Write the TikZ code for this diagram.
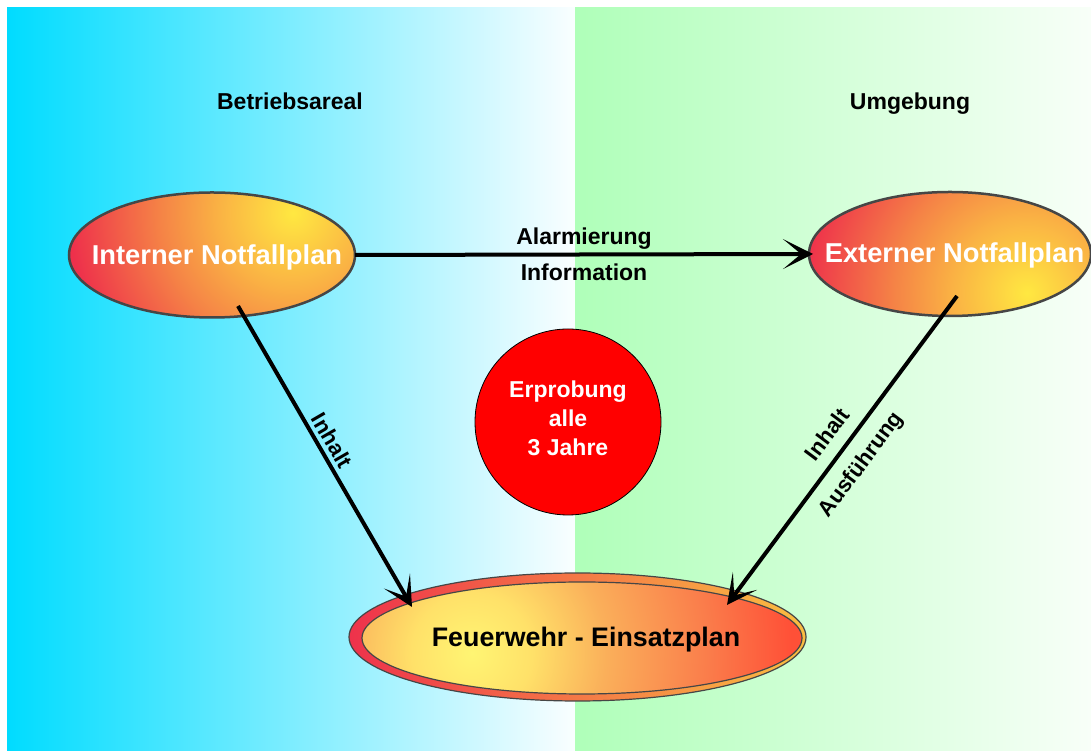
\documentclass[tikz,border=0pt]{standalone}
\usepackage{fontspec}
\setmainfont{Liberation Sans}
\usetikzlibrary{arrows.meta,shapes.geometric}

\definecolor{cyanL}{RGB}{0,220,255}
\definecolor{cyanR}{RGB}{250,254,255}
\definecolor{greenL}{RGB}{175,255,185}
\definecolor{greenR}{RGB}{248,255,248}
\definecolor{edgeG}{RGB}{70,70,70}
\definecolor{hY}{RGB}{255,232,65}
\definecolor{hOa}{RGB}{250,178,68}
\definecolor{hOb}{RGB}{245,132,70}
\definecolor{hR}{RGB}{238,48,75}
\definecolor{fY}{RGB}{255,245,115}
\definecolor{fYb}{RGB}{255,225,105}
\definecolor{fO}{RGB}{250,175,90}
\definecolor{fOb}{RGB}{250,125,75}
\definecolor{fR}{RGB}{255,80,55}
\definecolor{ringL}{RGB}{238,50,75}
\definecolor{ringM}{RGB}{248,140,65}
\definecolor{ringR}{RGB}{250,190,65}

\pgfdeclareradialshading{hotsh}{\pgfpointorigin}{color(0bp)=(hY); color(7.5bp)=(hOa); color(13.2bp)=(hOb); color(22.4bp)=(hR); color(50bp)=(hR)}
\pgfdeclareradialshading{fwsh}{\pgfpointorigin}{color(0bp)=(fY); color(4.4bp)=(fYb); color(9.9bp)=(fO); color(17.3bp)=(fOb); color(23.5bp)=(fR); color(50bp)=(fR)}

\begin{document}
\begin{tikzpicture}[x=1pt,y=1pt,
  lbl/.style={font=\fontsize{23}{27}\selectfont\bfseries, inner sep=2pt},
  slbl/.style={font=\fontsize{22}{26}\selectfont\bfseries, inner sep=2pt, sloped},
  ovaltxt/.style={font=\fontsize{27.3}{30}\selectfont\bfseries, text=white},
  fwtxt/.style={font=\fontsize{26.8}{30}\selectfont\bfseries, text=black},
  oval/.style={ellipse, draw=edgeG, line width=2.5pt, inner sep=0pt, outer sep=0pt},
  conn/.style={line width=4pt, -{Stealth[length=30pt,width=30pt,inset=18pt]}},
]
\useasboundingbox (0,0) rectangle (1091,751);
\fill[white] (0,0) rectangle (1091,751);
\shade[left color=cyanL, right color=cyanR] (7,0) rectangle (575,743);
\shade[left color=greenL, right color=greenR] (575,0) rectangle (1091,743);

\node[lbl, anchor=base] (betr) at (290,641) {Betriebsareal};
\node[lbl, anchor=base] (umg) at (910,641) {Umgebung};

\node[oval, minimum width=286pt, minimum height=125pt,
  path picture={\shade[shading=hotsh] (81,42) circle (250pt);},
  label={[ovaltxt, xshift=5pt, yshift=-2pt]center:Interner Notfallplan}] (int) at (212,496) {};

\node[oval, minimum width=282pt, minimum height=124pt,
  path picture={\shade[shading=hotsh] (77,-39) circle (250pt);},
  label={[ovaltxt, xshift=4.5pt, yshift=-1pt]center:Externer Notfallplan}] (ext) at (950,497) {};

\node[ellipse, draw=edgeG, line width=1.2pt, inner sep=0pt, outer sep=0pt,
  left color=ringL, middle color=ringM, right color=ringR,
  minimum width=457pt, minimum height=128pt] (fw) at (577.5,114) {};
\node[ellipse, draw=edgeG, line width=1.2pt, inner sep=0pt, outer sep=0pt,
  minimum width=440pt, minimum height=112pt,
  path picture={\shade[shading=fwsh] (-110,-15) circle (340pt);},
  label={[fwtxt, xshift=4pt, yshift=-2pt]center:Feuerwehr - Einsatzplan}] (fwin) at (582,113) {};

\node[circle, fill=red, draw=black, line width=0.8pt, minimum size=186pt, inner sep=0pt,
  label={[align=center, text=white, font=\fontsize{23}{29}\selectfont\bfseries, yshift=3.5pt]center:Erprobung\\alle\\3 Jahre}] (erp) at (568,329) {};

\coordinate (s1) at ([shift={(26,11.5)}]int.south);
\coordinate (e1) at ([shift={(-165.5,-34)}]fw.north);
\coordinate (s2) at ([shift={(7,20)}]ext.south);
\coordinate (e2) at ([shift={(149.5,-32)}]fw.north);

\draw[conn] (int.east) -- node[lbl, above=1pt]{Alarmierung} node[lbl, below=5pt]{Information} ([xshift=4pt]ext.west);
\draw[conn] (s1) -- node[slbl, above=2pt, pos=0.47]{Inhalt} (e1);
\draw[conn] (s2) -- node[slbl, above=10pt, pos=0.49]{Inhalt} node[slbl, below=10pt, pos=0.5]{Ausführung} (e2);
\end{tikzpicture}
\end{document}
